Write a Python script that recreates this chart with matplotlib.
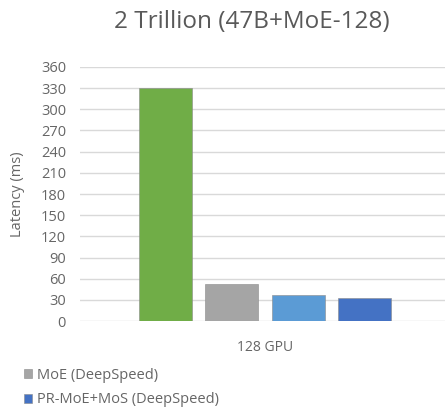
import matplotlib.pyplot as plt

plt.rcParams['font.family'] = ['Open Sans', 'DejaVu Sans']

category = "128 GPU"
latency = [330, 53, 37, 32]
bar_colors = ["#70AD47", "#A5A5A5", "#5B9BD5", "#4472C4"]
legend_names = {1: "MoE (DeepSpeed)", 3: "PR-MoE+MoS (DeepSpeed)"}
yticks = list(range(0, 361, 30))

fig = plt.figure(figsize=(4.45, 4.15), dpi=100)
ax = fig.add_axes([80 / 445, 94 / 415, 370 / 445, 254 / 415])

n = len(latency)
offsets = [i - (n - 1) / 2 for i in range(n)]
bars = ax.bar(offsets, latency, width=0.8, color=bar_colors,
              edgecolor="#8a8a8a", linewidth=0.4, zorder=3)

ax.set_xlim(-2.78, 2.78)
ax.set_ylim(0, 360)
ax.set_yticks(yticks)
ax.set_xticks([0])
ax.set_xticklabels([category])
ax.tick_params(axis="both", length=0, colors="#666666")
ax.tick_params(axis="y", pad=10, labelsize=10.5)
ax.tick_params(axis="x", pad=14, labelsize=10)
ax.grid(axis="y", color="#D9D9D9", linewidth=1, zorder=0)
for s in ax.spines.values():
    s.set_visible(False)

ax.set_ylabel("Latency (ms)", fontsize=10.5, color="#666666", labelpad=0)
ax.yaxis.set_label_coords(-(80 - 25) / 370, 0.5)
fig.text(252 / 445, 1 - 22 / 415, "2 Trillion (47B+MoE-128)", ha="center",
         va="center", fontsize=17.5, color="#595959")

handles = [bars[i] for i in legend_names]
labels = list(legend_names.values())
fig.legend(handles, labels, loc="upper left", bbox_to_anchor=(18 / 445, 1 - 362 / 415),
           frameon=False, fontsize=10.5, labelcolor="#666666", handlelength=0.55,
           handleheight=0.55, handletextpad=0.35, labelspacing=0.65,
           borderaxespad=0)

fig.savefig("out.png", dpi=100)
